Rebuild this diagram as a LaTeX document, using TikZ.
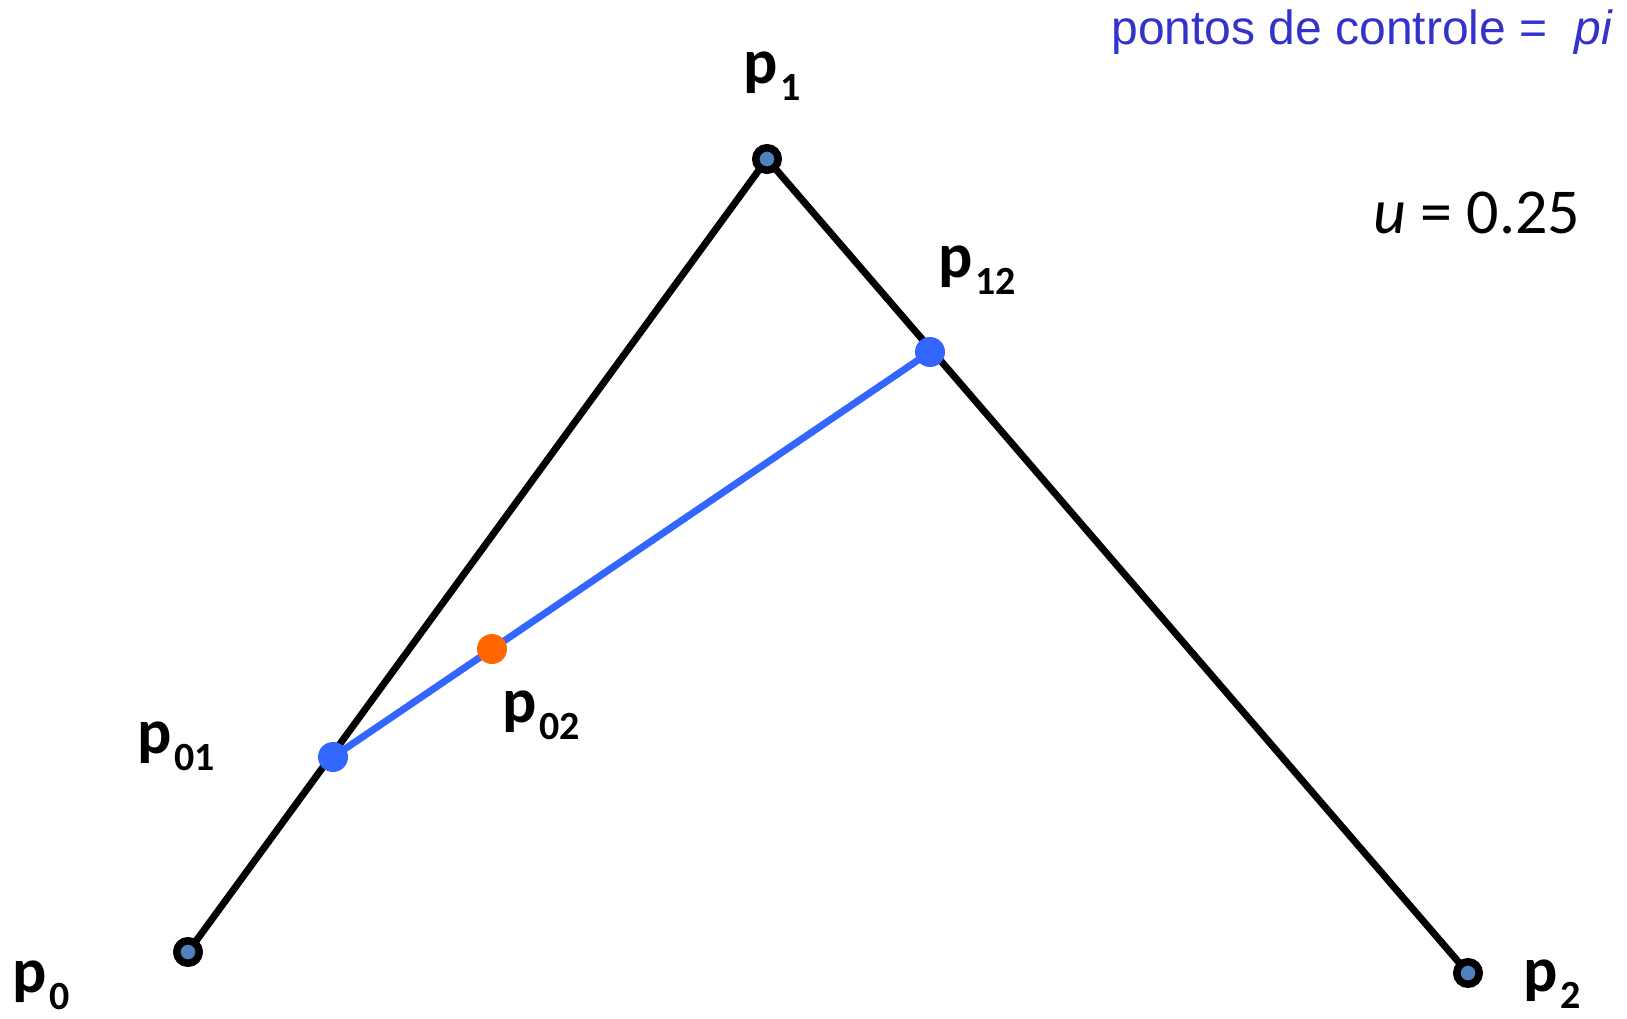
\documentclass[tikz,border=0pt]{standalone}
\usepackage{fontspec}
\setmainfont{Carlito}
\newfontfamily\arialfont{Liberation Sans}
\definecolor{ctrlblue}{RGB}{51,51,204}
\definecolor{ptblue}{RGB}{51,102,255}
\definecolor{ptorange}{RGB}{255,102,0}
\definecolor{ringfill}{RGB}{79,129,189}
\tikzset{
  ctrlpt/.style={circle,draw=black,line width=7.5pt,fill=ringfill,minimum size=22.5pt,inner sep=0pt},
  midpt/.style={circle,fill=ptblue,minimum size=30pt,inner sep=0pt},
  finalpt/.style={circle,fill=ptorange,minimum size=30pt,inner sep=0pt},
  polyline/.style={line width=7pt,black},
  bluelink/.style={line width=7pt,ptblue},
  plabel/.style={anchor=base west,inner sep=0pt,font=\fontsize{64pt}{64pt}\selectfont\bfseries},
}
\newcommand{\psub}[1]{p\kern2pt\raisebox{-17pt}{\fontsize{40pt}{40pt}\selectfont #1}}
\begin{document}
\begin{tikzpicture}[x=1pt,y=-1pt]
\useasboundingbox (0,0) rectangle (1627,1018);
% control points
\coordinate (P0) at (188,952);
\coordinate (P1) at (767,159);
\coordinate (P2) at (1468,973);
\coordinate (P01) at (333,757);
\coordinate (P12) at (930,352);
\coordinate (P02) at (492,649);
% lines
\draw[polyline,line join=round] (P0) -- (P1) -- (P2);
\draw[bluelink] (P01) -- (P12);
% points
\node[ctrlpt] (p0) at (P0) {};
\node[ctrlpt] (p1) at (P1) {};
\node[ctrlpt] (p2) at (P2) {};
\node[midpt] (p01) at (P01) {};
\node[midpt] (p12) at (P12) {};
\node[finalpt] (p02) at (P02) {};
% labels
\node[plabel] (l0) at (12.5,992) {\psub{0}};
\node[plabel] (l1) at (743.5,83) {\psub{1}};
\node[plabel] (l2) at (1523.5,991) {\psub{2}};
\node[plabel] (l01) at (137.5,753) {\psub{01}};
\node[plabel] (l02) at (502.5,722) {\psub{02}};
\node[plabel] (l12) at (938.5,277) {\psub{12}};
\node[anchor=base west,inner sep=0pt,font=\fontsize{64pt}{64pt}\selectfont] (u) at (1373,233) {\textit{u} = 0.25};
\node[anchor=base east,inner sep=0pt,text=ctrlblue,font=\arialfont\fontsize{48pt}{48pt}\selectfont] (title) at (1613,44) {pontos de controle = \ \textit{pi}};
\end{tikzpicture}
\end{document}
